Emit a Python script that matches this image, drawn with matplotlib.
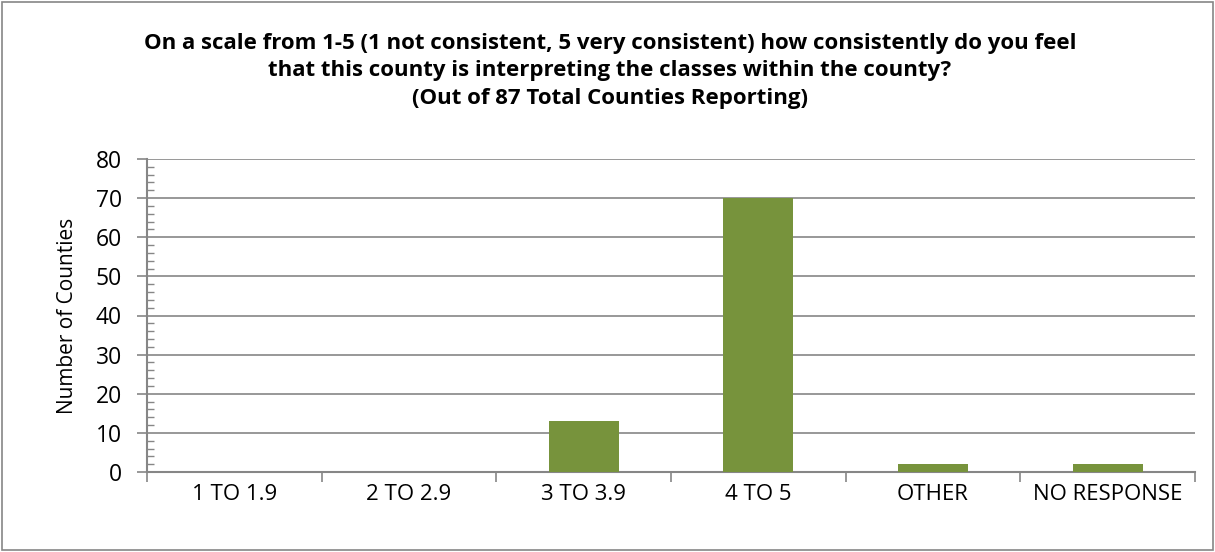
import numpy as np
import matplotlib.pyplot as plt
from matplotlib.ticker import MultipleLocator, FixedLocator

# Survey answers per rating band
categories = ['1 TO 1.9', '2 TO 2.9', '3 TO 3.9', '4 TO 5', 'OTHER', 'NO RESPONSE']
counts = [0, 0, 13, 70, 2, 2]

title = ('On a scale from 1-5 (1 not consistent, 5 very consistent) how consistently do you feel\n'
         'that this county is interpreting the classes within the county?\n'
         '(Out of 87 Total Counties Reporting)')

plt.rcParams['font.family'] = ['Open Sans', 'DejaVu Sans']
gray = '#868686'

fig = plt.figure(figsize=(12.15, 5.52), dpi=100)
ax = fig.add_axes([147 / 1215, 1 - 472 / 552, (1195 - 147) / 1215, (472 - 159) / 552])

x = np.arange(len(categories))
ax.bar(x, counts, width=0.4, color='#77933C', zorder=3)

ax.set_xlim(-0.5, len(categories) - 0.5)
ax.set_ylim(0, 80)
ax.yaxis.set_major_locator(MultipleLocator(10))
ax.yaxis.set_minor_locator(MultipleLocator(2))
ax.grid(axis='y', color=gray, linewidth=1.2, zorder=0)

ax.set_xticks(x)
ax.set_xticklabels(categories, fontsize=16)
ax.xaxis.set_minor_locator(FixedLocator(np.arange(-0.5, len(categories), 1.0)))
ax.tick_params(axis='x', which='major', length=0, pad=9)
ax.tick_params(axis='x', which='minor', length=7, color=gray, width=1.2, direction='out')
ax.tick_params(axis='y', which='major', length=7, color=gray, width=1.2, direction='out', labelsize=16.5, pad=11)
ax.tick_params(axis='y', which='minor', length=5, color=gray, width=1, direction='in')

for side in ['top', 'right']:
    ax.spines[side].set_visible(False)
for side in ['left', 'bottom']:
    ax.spines[side].set_color(gray)
    ax.spines[side].set_linewidth(1.5)

ax.set_ylabel('Number of Counties', fontsize=15, labelpad=13)

fig.text(610 / 1215, 1 - 33 / 552, title, ha='center', va='top', fontsize=16,
         fontweight='bold', linespacing=1.4)

# outer chart border
fig.patches.append(plt.Rectangle((0.002, 0.003), 0.996, 0.994, transform=fig.transFigure,
                                 fill=False, edgecolor=gray, linewidth=1.2))

fig.savefig('out.png', dpi=100)
